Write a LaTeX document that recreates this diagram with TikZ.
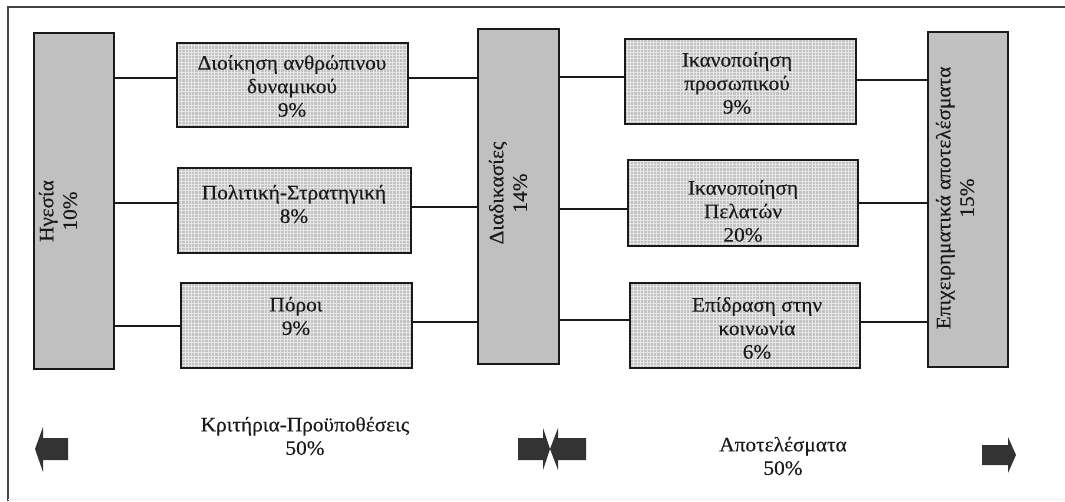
\documentclass[tikz,border=0pt]{standalone}
\usepackage{fontspec}
\setmainfont{Liberation Serif}
\newfontfamily\boxfont{Liberation Serif}[FakeStretch=1.04,FakeBold=0.35]
\usetikzlibrary{patterns.meta}
\definecolor{ink}{HTML}{1A1A1A}
\definecolor{arrowgray}{HTML}{333333}
\definecolor{boxgray}{HTML}{C0C0C0}
\definecolor{gridgray}{HTML}{C2C2C2}
\definecolor{gridline}{HTML}{E6E6E6}
\definecolor{framegray}{HTML}{444444}
% fine white mesh used inside the criteria and result boxes
\tikzdeclarepattern{
  name=mesh, type=uncolored,
  bounding box={(-0.5pt,-0.5pt) and (3.8pt,3.8pt)},
  tile size={(3.3pt,3.3pt)},
  code={\draw[line width=0.6pt] (0pt,0pt) -- (3.3pt,0pt) (0pt,0pt) -- (0pt,3.3pt);}
}
\tikzset{
  bigbox/.style={draw=ink, line width=1.4pt, fill=boxgray, inner sep=0pt},
  gridbox/.style={draw=ink, line width=1.4pt, preaction={fill=gridgray},
    pattern=mesh, pattern color=gridline, inner sep=0pt},
  lbl/.style={font=\boxfont\fontsize{20.5}{23.5}\selectfont, align=center, text=ink, inner sep=0pt},
  vlbl/.style={lbl, rotate=90},
  link/.style={draw=ink, line width=1.2pt},
  blockarrow/.style={fill=arrowgray}
}
\begin{document}
\begin{tikzpicture}[x=1pt,y=-1pt]
\useasboundingbox (0,0) rectangle (1065,501);
\fill[white] (0,0) rectangle (1065,501);
% page frame
\draw[framegray, line width=1.3pt] (8,501) -- (8,7) -- (1065,7);
\draw[gray!15, line width=1pt] (8,499) -- (1065,499);

% tall boxes
\node[bigbox, minimum width=80pt, minimum height=336pt] (lead) at (74,201) {};
\node[bigbox, minimum width=81pt, minimum height=335pt] (proc) at (518.5,196.5) {};
\node[bigbox, minimum width=80pt, minimum height=335pt] (bus) at (968,199.5) {};
\node[vlbl] (leadT) at (58,211) {Ηγεσία\\10\%};
\node[vlbl] (procT) at (508,193) {Διαδικασίες\\14\%};
\node[vlbl] (busT) at (955,198) {Επιχειρηματικά αποτελέσματα\\15\%};

% criteria boxes
\node[gridbox, minimum width=231pt, minimum height=84pt] (hr) at (292.5,85) {};
\node[gridbox, minimum width=233pt, minimum height=85pt] (pol) at (294.5,210.5) {};
\node[gridbox, minimum width=231pt, minimum height=85pt] (res) at (296.5,325.5) {};
\node[lbl] (hrT) at (292,86) {Διοίκηση ανθρώπινου\\δυναμικού\\9\%};
\node[lbl] (polT) at (294,204) {Πολιτική-Στρατηγική\\8\%};
\node[lbl] (resT) at (296,316) {Πόροι\\9\%};

% results boxes
\node[gridbox, minimum width=231pt, minimum height=85pt] (sat) at (740.5,81.5) {};
\node[gridbox, minimum width=230pt, minimum height=86pt] (cust) at (743,203) {};
\node[gridbox, minimum width=230pt, minimum height=85pt] (soc) at (745,325.5) {};
\node[lbl] (satT) at (737,83) {Ικανοποίηση\\προσωπικού\\9\%};
\node[lbl] (custT) at (743,211) {Ικανοποίηση\\Πελατών\\20\%};
\node[lbl] (socT) at (757,328) {Επίδραση στην\\κοινωνία\\6\%};

% connectors
\draw[link] (lead.east |- 0,78) -- (hr.west |- 0,78);
\draw[link] (lead.east |- 0,203) -- (pol.west |- 0,203);
\draw[link] (lead.east |- 0,326) -- (res.west |- 0,326);
\draw[link] (hr.east |- 0,78) -- (proc.west |- 0,78);
\draw[link] (pol.east |- 0,207) -- (proc.west |- 0,207);
\draw[link] (res.east |- 0,322) -- (proc.west |- 0,322);
\draw[link] (proc.east |- 0,77) -- (sat.west |- 0,77);
\draw[link] (proc.east |- 0,209) -- (cust.west |- 0,209);
\draw[link] (proc.east |- 0,320) -- (soc.west |- 0,320);
\draw[link] (sat.east |- 0,80) -- (bus.west |- 0,80);
\draw[link] (cust.east |- 0,203) -- (bus.west |- 0,203);
\draw[link] (soc.east |- 0,322) -- (bus.west |- 0,322);

% section captions
\node[lbl] (critT) at (305,436) {Κριτήρια-Προϋποθέσεις\\50\%};
\node[lbl] (outT) at (783,456) {Αποτελέσματα\\50\%};

% block arrows
\fill[blockarrow] (35,449) -- (43,427) -- (43,438) -- (68,438) -- (68,460) -- (43,460) -- (43,472) -- cycle;
\fill[blockarrow] (550,449) -- (543,428) -- (543,438) -- (518,438) -- (518,460) -- (543,460) -- (543,470) -- cycle;
\fill[blockarrow] (550,449) -- (558,428) -- (558,438) -- (586,438) -- (586,460) -- (558,460) -- (558,470) -- cycle;
\fill[blockarrow] (1016,455) -- (1008,437) -- (1008,445) -- (982,445) -- (982,465) -- (1008,465) -- (1008,473) -- cycle;
\end{tikzpicture}
\end{document}
